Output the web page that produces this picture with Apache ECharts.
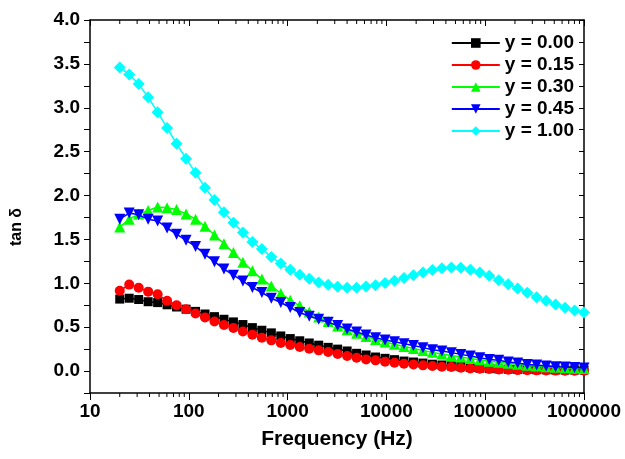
<!DOCTYPE html>
<html>
<head>
<meta charset="utf-8">
<script src="https://cdn.jsdelivr.net/npm/echarts@6/dist/echarts.min.js"></script>
<style>
  html, body { margin: 0; padding: 0; background: #fff; }
  #chart { width: 625px; height: 459px; }
</style>
</head>
<body>
<div id="chart"></div>
<script>
// Measurement frequencies (Hz), log sweep 20 Hz – 1 MHz
const freq = [20, 24.94, 31.10, 38.78, 48.36, 60.30, 75.19, 93.83, 117.0, 145.9,
  181.9, 226.9, 282.9, 352.9, 440.0, 548.8, 684.4, 853.4, 1064, 1327,
  1656, 2065, 2575, 3211, 4004, 4994, 6228, 7767, 9687, 12080,
  15070, 18790, 23430, 29220, 36440, 45450, 56680, 70680, 88150, 109900,
  137100, 171000, 213200, 265900, 331600, 413600, 515800, 643200, 802200, 1000000];

// Loss tangent for each composition
const tan000 = [0.82, 0.83, 0.815, 0.79, 0.78, 0.755, 0.73, 0.705, 0.68, 0.65,
  0.62, 0.59, 0.56, 0.53, 0.495, 0.465, 0.435, 0.40, 0.37, 0.345,
  0.32, 0.295, 0.27, 0.25, 0.229, 0.202, 0.183, 0.16, 0.145, 0.13,
  0.114, 0.103, 0.091, 0.078, 0.069, 0.058, 0.05, 0.04, 0.033, 0.028,
  0.024, 0.021, 0.019, 0.017, 0.015, 0.014, 0.013, 0.012, 0.012, 0.012];
const tan015 = [0.915, 0.985, 0.95, 0.905, 0.875, 0.80, 0.75, 0.705, 0.655, 0.61,
  0.565, 0.525, 0.49, 0.45, 0.415, 0.38, 0.35, 0.32, 0.297, 0.274,
  0.255, 0.236, 0.217, 0.195, 0.171, 0.152, 0.133, 0.122, 0.107, 0.095,
  0.084, 0.076, 0.065, 0.057, 0.05, 0.046, 0.038, 0.03, 0.027, 0.023,
  0.019, 0.015, 0.011, 0.009, 0.008, 0.006, 0.005, 0.004, 0.004, 0.004];
const tan030 = [1.64, 1.73, 1.79, 1.83, 1.87, 1.86, 1.84, 1.79, 1.73, 1.65,
  1.55, 1.45, 1.35, 1.24, 1.143, 1.048, 0.97, 0.884, 0.808, 0.743,
  0.674, 0.617, 0.564, 0.514, 0.47, 0.43, 0.395, 0.36, 0.33, 0.305,
  0.28, 0.258, 0.235, 0.213, 0.195, 0.177, 0.16, 0.143, 0.128, 0.113,
  0.1, 0.088, 0.077, 0.067, 0.058, 0.05, 0.043, 0.037, 0.032, 0.028];
const tan045 = [1.73, 1.80, 1.78, 1.73, 1.71, 1.63, 1.56, 1.49, 1.42, 1.33,
  1.246, 1.162, 1.093, 1.025, 0.952, 0.895, 0.83, 0.781, 0.724, 0.667,
  0.625, 0.59, 0.555, 0.52, 0.48, 0.445, 0.41, 0.38, 0.355, 0.335,
  0.312, 0.29, 0.267, 0.244, 0.229, 0.21, 0.19, 0.171, 0.152, 0.133,
  0.122, 0.103, 0.091, 0.076, 0.069, 0.057, 0.05, 0.046, 0.04, 0.036];
const tan100 = [3.46, 3.38, 3.27, 3.12, 2.95, 2.77, 2.59, 2.42, 2.26, 2.09,
  1.95, 1.81, 1.69, 1.58, 1.47, 1.39, 1.30, 1.226, 1.154, 1.097,
  1.051, 1.01, 0.983, 0.96, 0.949, 0.949, 0.964, 0.979, 1.002, 1.029,
  1.059, 1.093, 1.124, 1.151, 1.17, 1.181, 1.177, 1.154, 1.124, 1.086,
  1.036, 0.99, 0.941, 0.891, 0.842, 0.80, 0.758, 0.72, 0.69, 0.667];

const seriesNames = ['y = 0.00', 'y = 0.15', 'y = 0.30', 'y = 0.45', 'y = 1.00'];
const seriesData = [tan000, tan015, tan030, tan045, tan100];
const seriesColors = ['#000000', '#ff0000', '#00ff00', '#0000ff', '#00ffff'];
const seriesSymbols = ['rect', 'circle', 'triangle', 'path://M0,0 L10,0 L5,10 Z', 'diamond'];
const symbolSizes = [9, 10, 11, 11, 12];

// Log-axis minor tick positions (2..9 × each decade)
const minorTicks = [];
[10, 100, 1000, 10000, 100000].forEach(function (d) {
  [2, 3, 4, 5, 6, 7, 8, 9].forEach(function (m) { minorTicks.push(m * d); });
});

const yMin = -0.25, yMax = 4.0;
const FONT = 'Liberation Sans';

const chart = echarts.init(document.getElementById('chart'), null, { renderer: 'canvas' });

const lineSeries = seriesNames.map(function (name, k) {
  return {
    name: name,
    type: 'line',
    data: freq.map(function (f, i) { return [f, seriesData[k][i]]; }),
    symbol: seriesSymbols[k],
    symbolSize: symbolSizes[k],
    showAllSymbol: true,
    lineStyle: { color: seriesColors[k], width: 1.5 },
    itemStyle: { color: seriesColors[k] },
    z: 3 + k
  };
});

const tickSeries = {
  type: 'custom',
  silent: true,
  z: 10,
  clip: false,
  data: minorTicks.map(function (f) { return [f]; }),
  renderItem: function (params, api) {
    const b = api.coord([api.value(0), yMin]);
    const t = api.coord([api.value(0), yMax]);
    return {
      type: 'group',
      children: [
        { type: 'line', shape: { x1: b[0], y1: b[1], x2: b[0], y2: b[1] + 4 }, style: { stroke: '#000', lineWidth: 1 } },
        { type: 'line', shape: { x1: t[0], y1: t[1], x2: t[0], y2: t[1] + 4 }, style: { stroke: '#000', lineWidth: 1 } }
      ]
    };
  }
};

chart.setOption({
  animation: false,
  backgroundColor: '#ffffff',
  grid: { left: 90, right: 41, top: 20, bottom: 66, containLabel: false },
  legend: {
    data: seriesNames,
    orient: 'vertical',
    right: 46,
    top: 28,
    itemWidth: 48,
    itemHeight: 12,
    itemGap: 2,
    textStyle: { fontFamily: FONT, fontWeight: 'bold', fontSize: 19, color: '#000', lineHeight: 20 }
  },
  xAxis: [
    {
      type: 'log',
      logBase: 10,
      min: 10,
      max: 1000000,
      position: 'bottom',
      name: 'Frequency (Hz)',
      nameLocation: 'middle',
      nameGap: 36,
      nameTextStyle: { fontFamily: FONT, fontWeight: 'bold', fontSize: 21, color: '#000' },
      axisLine: { onZero: false, lineStyle: { color: '#000', width: 1.5 } },
      axisTick: { inside: false, length: 7, lineStyle: { color: '#000', width: 1 } },
      axisLabel: {
        fontFamily: FONT, fontWeight: 'bold', fontSize: 19, color: '#000', margin: 9,
        formatter: function (v) { return String(Math.round(v)); }
      },
      splitLine: { show: false }
    },
    {
      type: 'log',
      logBase: 10,
      min: 10,
      max: 1000000,
      position: 'top',
      axisLine: { onZero: false, lineStyle: { color: '#000', width: 1.5 } },
      axisTick: { inside: true, length: 6, lineStyle: { color: '#000', width: 1 } },
      axisLabel: { show: false },
      splitLine: { show: false }
    }
  ],
  yAxis: [
    {
      type: 'value',
      min: yMin,
      max: yMax,
      interval: 0.25,
      position: 'left',
      name: 'tan δ',
      nameLocation: 'middle',
      nameGap: 65,
      nameTextStyle: { fontFamily: FONT, fontWeight: 'bold', fontSize: 16, color: '#000', padding: [0, 41, 0, 0] },
      axisLine: { show: true, onZero: false, lineStyle: { color: '#000', width: 1.5 } },
      axisTick: { inside: false, length: 6, lineStyle: { color: '#000', width: 1 } },
      axisLabel: {
        fontFamily: FONT, fontWeight: 'bold', fontSize: 19, color: '#000', margin: 10,
        formatter: function (v) {
          return Math.abs(v * 2 - Math.round(v * 2)) < 1e-6 ? v.toFixed(1) : '';
        }
      },
      splitLine: { show: false }
    },
    {
      type: 'value',
      min: yMin,
      max: yMax,
      interval: 0.25,
      position: 'right',
      axisLine: { show: true, onZero: false, lineStyle: { color: '#000', width: 1.5 } },
      axisTick: { inside: true, length: 5, lineStyle: { color: '#000', width: 1 } },
      axisLabel: { show: false },
      splitLine: { show: false }
    }
  ],
  series: lineSeries.concat([tickSeries])
});
</script>
</body>
</html>
